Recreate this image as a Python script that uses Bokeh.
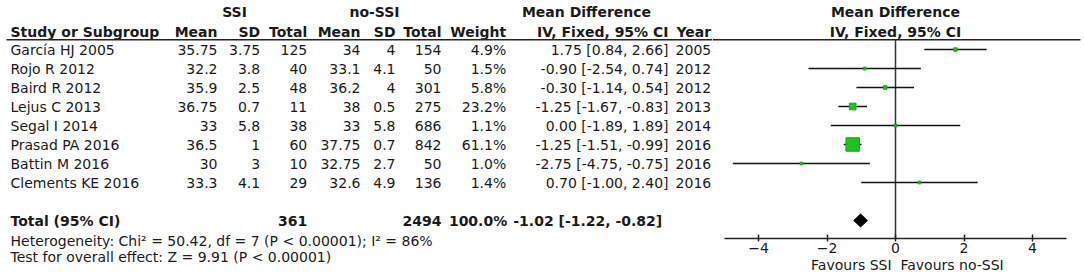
from bokeh.plotting import figure
from bokeh.layouts import row
from bokeh.models import Range1d, FixedTicker, ColumnDataSource
from bokeh.core.properties import value
from bokeh.embed import file_html
from bokeh.resources import INLINE

# ---------------- data ----------------
studies = ["García HJ 2005", "Rojo R 2012", "Baird R 2012", "Lejus C 2013",
           "Segal I 2014", "Prasad PA 2016", "Battin M 2016", "Clements KE 2016"]
ssi_mean = [35.75, 32.2, 35.9, 36.75, 33, 36.5, 30, 33.3]
ssi_sd = [3.75, 3.8, 2.5, 0.7, 5.8, 1, 3, 4.1]
ssi_total = [125, 40, 48, 11, 38, 60, 10, 29]
no_mean = [34, 33.1, 36.2, 38, 33, 37.75, 32.75, 32.6]
no_sd = [4, 4.1, 4, 0.5, 5.8, 0.7, 2.7, 4.9]
no_total = [154, 50, 301, 275, 686, 842, 50, 136]
weight = [4.9, 1.5, 5.8, 23.2, 1.1, 61.1, 1.0, 1.4]
md = [1.75, -0.90, -0.30, -1.25, 0.00, -1.25, -2.75, 0.70]
ci_lo = [0.84, -2.54, -1.14, -1.67, -1.89, -1.51, -4.75, -1.00]
ci_hi = [2.66, 0.74, 0.54, -0.83, 1.89, -0.99, -0.75, 2.40]
year = [2005, 2012, 2012, 2013, 2014, 2016, 2016, 2016]

total_ssi = 361
total_no = 2494
total_weight = 100.0
total_md = -1.02
total_lo = -1.22
total_hi = -0.82
heterogeneity = "Heterogeneity: Chi² = 50.42, df = 7 (P < 0.00001); I² = 86%"
overall = "Test for overall effect: Z = 9.91 (P < 0.00001)"
x_ticks = [-4, -2, 0, 2, 4]
favours_left = "Favours SSI"
favours_right = "Favours no-SSI"

# ---------------- style ----------------
FONT = "DejaVu Sans"
FS = "14px"
TXT = "#1a1a1a"
GREEN = "#1fc21f"
GREEN_LINE = "#12a812"
LINE = "#222222"
NBSP = "\u00a0"

W, H = 1084, 278
SPLIT = 712
ROW0 = 49
STEP = 19


def fmt(v):
    return f"{v:g}"


def ci_text(m, lo, hi):
    return f"{m:.2f} [{lo:.2f}, {hi:.2f}]"


def add_text(fig, xs, ys, texts, align="left", bold=False):
    src = ColumnDataSource(dict(x=xs, y=ys, t=texts))
    fig.text(x="x", y="y", text="t", source=src, text_align=align,
             text_baseline="middle", text_font=value(FONT),
             text_font_size=value(FS),
             text_font_style="bold" if bold else "normal", text_color=TXT)


def no_align(fig):
    try:
        fig.frame_align = False
    except Exception:
        pass


# ---------------- left: table ----------------
left = figure(width=SPLIT, height=H, x_range=Range1d(0, SPLIT), y_range=Range1d(H, 0),
              output_backend="svg", toolbar_location=None,
              x_axis_location=None, y_axis_location=None, min_border=0)
left.grid.visible = False
left.outline_line_color = None
no_align(left)

n = len(studies)
rows_px = [ROW0 + STEP * i for i in range(n)]
HDR1 = 11.5
HDR2 = 31
LINE_Y = 39.3
TOTAL_Y = ROW0 + STEP * 9
HET_Y = 240.7
TEST_Y = 256.7

col_x = dict(study=10, sm=217, ssd=259.7, sn=306.7, nm=360, nsd=395, nn=441,
             w=505.7, ci=668, yr=710.7)

# headers
add_text(left, [234, 374, 586], [HDR1] * 3, ["SSI", "no-SSI", "Mean Difference"],
         align="center", bold=True)
add_text(left, [col_x["study"]], [HDR2], ["Study or Subgroup"], bold=True)
add_text(left,
         [col_x[k] for k in ["sm", "ssd", "sn", "nm", "nsd", "nn", "w", "ci", "yr"]],
         [HDR2] * 9,
         ["Mean", "SD", "Total", "Mean", "SD", "Total", "Weight",
          "IV, Fixed, 95% CI", "Year"], align="right", bold=True)
left.segment(x0=[6], y0=[LINE_Y], x1=[SPLIT], y1=[LINE_Y], line_color=LINE, line_width=1.5)

# body
add_text(left, [col_x["study"]] * n, rows_px, studies)
cols = [("sm", [fmt(v) for v in ssi_mean]),
        ("ssd", [fmt(v) for v in ssi_sd]),
        ("sn", [str(v) for v in ssi_total]),
        ("nm", [fmt(v) for v in no_mean]),
        ("nsd", [fmt(v) for v in no_sd]),
        ("nn", [str(v) for v in no_total]),
        ("w", [f"{v:.1f}%" for v in weight]),
        ("ci", [ci_text(m, a, b) for m, a, b in zip(md, ci_lo, ci_hi)]),
        ("yr", [str(v) for v in year])]
for key, vals in cols:
    add_text(left, [col_x[key]] * n, rows_px, vals, align="right")

# totals
add_text(left, [col_x["study"]], [TOTAL_Y], ["Total (95% CI)"], bold=True)
add_text(left, [col_x["sn"], col_x["nn"], col_x["w"] + 1, col_x["ci"] - 6.3],
         [TOTAL_Y] * 4,
         [str(total_ssi), str(total_no), f"{total_weight:.1f}%",
          ci_text(total_md, total_lo, total_hi)], align="right", bold=True)
add_text(left, [col_x["study"]], [HET_Y], [heterogeneity])
add_text(left, [col_x["study"]], [TEST_Y], [overall])

# ---------------- right: forest plot ----------------
PX_PER_UNIT = 34.25
ZERO_REF = 895
FRAME_BOT = 238


def ry(ref_y):
    return (ref_y - ROW0) / STEP


def rx(ref_x):
    return (ref_x - ZERO_REF) / PX_PER_UNIT


x0 = rx(SPLIT)
x1 = rx(W)
right = figure(frame_width=W - SPLIT, frame_height=FRAME_BOT,
               x_range=Range1d(x0, x1),
               y_range=Range1d(ry(FRAME_BOT), ry(0)),
               output_backend="svg", toolbar_location=None,
               y_axis_location=None, min_border=0, min_border_bottom=H - FRAME_BOT)
right.grid.visible = False
right.outline_line_color = None
no_align(right)

ax = right.xaxis[0]
ax.ticker = FixedTicker(ticks=x_ticks)
ax.bounds = (-5, 5)
ax.minor_tick_line_color = None
ax.major_tick_in = 4
ax.major_tick_out = 3
ax.major_tick_line_width = 1.5
ax.major_tick_line_color = LINE
ax.axis_line_width = 1.5
ax.axis_line_color = LINE
ax.major_label_standoff = 1
ax.major_label_text_font = FONT
ax.major_label_text_font_size = FS
ax.major_label_text_color = TXT
ax.axis_label = (NBSP * 4 + favours_left + NBSP * 2 + favours_right)
ax.axis_label_text_font = FONT
ax.axis_label_text_font_size = FS
ax.axis_label_text_font_style = "normal"
ax.axis_label_text_color = TXT
ax.axis_label_standoff = 1

rows = list(range(n))
# headers
add_text(right, [0, 0], [ry(HDR1), ry(HDR2)], ["Mean Difference", "IV, Fixed, 95% CI"],
         align="center", bold=True)
right.segment(x0=[x0], y0=[ry(LINE_Y)], x1=[rx(1080)], y1=[ry(LINE_Y)],
              line_color=LINE, line_width=1.5)
right.segment(x0=[0], y0=[ry(LINE_Y)], x1=[0], y1=[ry(FRAME_BOT)], line_color="#333333",
              line_width=1.5)

# CIs and squares
right.segment(x0=ci_lo, y0=rows, x1=ci_hi, y1=rows, line_color="#111111", line_width=1.3)
sizes = [2.5 + 0.18 * w for w in weight]
right.scatter(x=md, y=rows, marker="square", size=sizes, fill_color=GREEN,
              line_color=GREEN_LINE, line_width=1)

# diamond for total
ty = 9
dh = 0.34
right.patch(x=[total_lo, total_md, total_hi, total_md],
            y=[ty, ty - dh, ty, ty + dh], fill_color="black", line_color="black")

layout = row(left, right, spacing=0)
open("out.html", "w").write(file_html(layout, INLINE))
